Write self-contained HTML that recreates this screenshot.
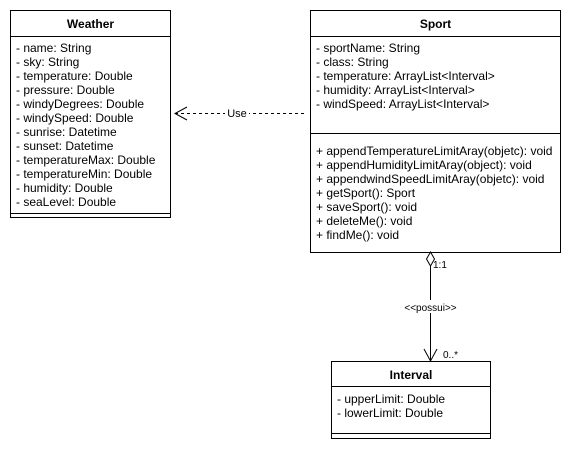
<!DOCTYPE html>
<html><head><style>body{margin:0;background:#fff}svg{display:block}text{font-family:"Liberation Sans",Arial,sans-serif;font-size:12px;fill:#000}</style></head><body>
<svg width="571" height="449" viewBox="0 0 571 449" xmlns="http://www.w3.org/2000/svg">
<g fill="none" stroke="#000" stroke-width="1">
<rect x="10.5" y="10.5" width="160" height="207"/>
<line x1="10" y1="213.5" x2="171" y2="213.5"/>
<line x1="10" y1="36.5" x2="171" y2="36.5"/>
<rect x="310.5" y="10.5" width="250" height="242"/>
<line x1="310" y1="36.5" x2="561" y2="36.5"/>
<line x1="310" y1="133.5" x2="561" y2="133.5"/>
<rect x="331.5" y="361.5" width="159" height="77"/>
<line x1="331" y1="386.5" x2="491" y2="386.5"/>
<line x1="331" y1="433.5" x2="491" y2="433.5"/>
<line x1="175" y1="113.5" x2="305" y2="113.5" stroke-dasharray="3,3"/>
<polyline points="187,107 175,113.5 187,120"/>
<polygon points="430.5,252 434.5,259 430.5,266 426.5,259"/>
<line x1="430.5" y1="266" x2="430.5" y2="361"/>
<polyline points="424,349 430.5,361 437,349"/>
</g>
<rect x="225" y="106" width="24" height="14" fill="#fff"/>
<text x="237" y="117" text-anchor="middle" style="font-size:11px">Use</text>
<rect x="402" y="300" width="57" height="13" fill="#fff"/>
<text x="430.5" y="311" text-anchor="middle" style="font-size:10px">&lt;&lt;possui&gt;&gt;</text>
<text x="433" y="268" style="font-size:10px">1:1</text>
<text x="443" y="358" style="font-size:10px">0..*</text>
<text x="90.5" y="28" text-anchor="middle" style="font-weight:bold">Weather</text>
<text x="16" y="52">- name: String</text>
<text x="16" y="66">- sky: String</text>
<text x="16" y="80">- temperature: Double</text>
<text x="16" y="94">- pressure: Double</text>
<text x="16" y="108">- windyDegrees: Double</text>
<text x="16" y="122">- windySpeed: Double</text>
<text x="16" y="136">- sunrise: Datetime</text>
<text x="16" y="150">- sunset: Datetime</text>
<text x="16" y="164">- temperatureMax: Double</text>
<text x="16" y="178">- temperatureMin: Double</text>
<text x="16" y="192">- humidity: Double</text>
<text x="16" y="206">- seaLevel: Double</text>
<text x="435.5" y="28" text-anchor="middle" style="font-weight:bold">Sport</text>
<text x="316" y="52">- sportName: String</text>
<text x="316" y="66">- class: String</text>
<text x="316" y="80">- temperature: ArrayList&lt;Interval&gt;</text>
<text x="316" y="94">- humidity: ArrayList&lt;Interval&gt;</text>
<text x="316" y="108">- windSpeed: ArrayList&lt;Interval&gt;</text>
<text x="316" y="155">+ appendTemperatureLimitAray(objetc): void</text>
<text x="316" y="169">+ appendHumidityLimitAray(object): void</text>
<text x="316" y="183">+ appendwindSpeedLimitAray(objetc): void</text>
<text x="316" y="197">+ getSport(): Sport</text>
<text x="316" y="211">+ saveSport(): void</text>
<text x="316" y="225">+ deleteMe(): void</text>
<text x="316" y="239">+ findMe(): void</text>
<text x="411" y="379" text-anchor="middle" style="font-weight:bold">Interval</text>
<text x="337" y="403">- upperLimit: Double</text>
<text x="337" y="417">- lowerLimit: Double</text>
</svg>
</body></html>
